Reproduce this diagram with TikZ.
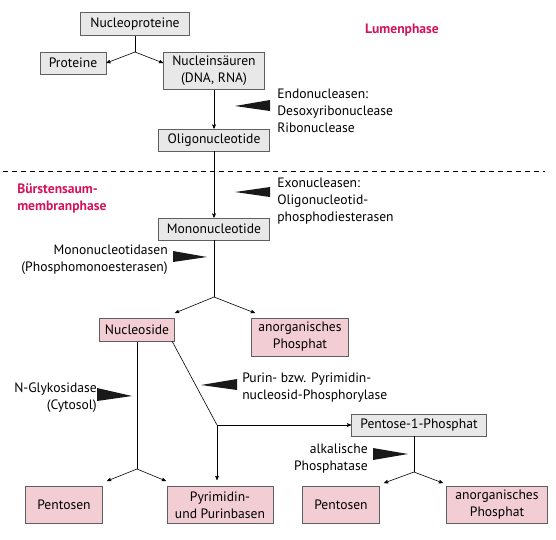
\documentclass[tikz,border=0pt]{standalone}
\usepackage{fontspec}
\setmainfont{PT Sans}
\usetikzlibrary{arrows}
\definecolor{boxgray}{HTML}{E8E8E8}
\definecolor{boxpink}{HTML}{F3CDD4}
\definecolor{framegray}{HTML}{5F5F5F}
\definecolor{phasered}{HTML}{D4145A}
\begin{document}
\begin{tikzpicture}[
    x=1pt, y=-1pt,
    ->,>=stealth',
    font=\fontsize{13.6}{17}\selectfont,
    line width=0.6pt,
    gray node/.style={rectangle, fill=boxgray, draw=framegray, inner sep=1pt, align=center},
    pink node/.style={rectangle, fill=boxpink, draw=framegray, inner sep=1pt, align=center},
    enzyme/.style={inner sep=0pt},
    phase/.style={inner sep=0pt, align=left, text=phasered, font=\fontsize{13.6}{17}\selectfont\bfseries},
    wedge/.style={fill=black!90, draw=none}
]
\useasboundingbox (0,0) rectangle (556,539);

% Nodes
\node[gray node, minimum width=109, minimum height=23] at (135, 24) (np) {Nucleoproteine};
\node[gray node, minimum width=66, minimum height=22] at (73, 63) (prot) {Proteine};
\node[gray node, minimum width=101, minimum height=37] at (214, 71) (nuc) {Nucleinsäuren\\(DNA, RNA)};
\node[gray node, minimum width=111, minimum height=22] at (214, 140) (oligo) {Oligonucleotide};
\node[gray node, minimum width=111, minimum height=22] at (214, 229) (mono) {Mononucleotide};
\node[pink node, minimum width=75, minimum height=23] at (137, 330) (nucs) {Nucleoside};
\node[pink node, minimum width=97, minimum height=38] at (300, 337) (phosA) {anorganisches\\Phosphat};
\node[gray node, minimum width=135, minimum height=22] at (419, 425) (pent1p) {Pentose-1-Phosphat};
\node[pink node, minimum width=77, minimum height=37] at (64, 505) (pentA) {Pentosen};
\node[pink node, minimum width=106, minimum height=37] at (220, 505) (bases) {Pyrimidin-\\und Purinbasen};
\node[pink node, minimum width=77, minimum height=37] at (341, 505) (pentB) {Pentosen};
\node[pink node, minimum width=101, minimum height=37] at (497, 505) (phosB) {anorganisches\\Phosphat};

% Phases
\node[phase] at (402, 30) (lumen) {Lumenphase};
\node[phase, anchor=west] at (17, 198) (brush) {Bürstensaum-\\membranphase};
\draw[-, dash pattern=on 5pt off 4pt] (3, 171) coordinate (dashL) -- (545, 171) coordinate (dashR);

% Enzymes
\node[enzyme, anchor=west, align=left] at (277, 111) (endo) {Endonucleasen:\\Desoxyribonuclease\\Ribonuclease};
\node[enzyme, anchor=west, align=left] at (277, 201) (exo) {Exonucleasen:\\Oligonucleotid-\\phosphodiesterasen};
\node[enzyme, anchor=east, align=right] at (168, 260) (monoase) {Mononucleotidasen\\(Phosphomonoesterasen)};
\node[enzyme, anchor=east, align=right] at (97, 398) (glyk) {N-Glykosidase\\(Cytosol)};
\node[enzyme, anchor=west, align=left] at (242, 388) (phosph) {Purin- bzw. Pyrimidin-\\nucleosid-Phosphorylase};
\node[enzyme, anchor=east, align=right] at (368, 459) (alk) {alkalische\\Phosphatase};

% Wedges
\fill[wedge] (235, 106) -- (270, 100) -- (270, 111) -- cycle;
\fill[wedge] (235, 192) -- (270, 187) -- (270, 197) -- cycle;
\fill[wedge] (207, 257) -- (173, 251) -- (173, 262) -- cycle;
\fill[wedge] (132, 396) -- (97, 388) -- (97, 401) -- cycle;
\fill[wedge] (201, 385) -- (237, 379) -- (237, 390) -- cycle;
\fill[wedge] (408, 454) -- (373, 448) -- (373, 460) -- cycle;

% Branch points
\coordinate (b1) at (135, 52);
\coordinate (b2) at (214, 297);
\coordinate (b3) at (137, 469);
\coordinate (b4) at (217, 425);
\coordinate (b5) at (414, 472);

% Edges in the Lumenphase
\draw[-] (np) -- (b1);
\draw (b1) -- (prot.east);
\draw (b1) -- (nuc.west |- prot.east);
\draw (nuc) -- (oligo);
\draw (oligo) -- (mono);

% Edges in the Bürstensaummembranphase
\draw[-] (mono) -- (b2);
\draw (b2) -- (175, 313) coordinate (t1);
\draw (b2) -- (255, 313) coordinate (t2);
\draw[-] (b3 |- nucs.south) -- (b3);
\draw (b3) -- (107, 481) coordinate (t3);
\draw (b3) -- (166, 481) coordinate (t4);
\draw[-] (172, 341) coordinate (n2) -- (b4);
\draw (b4) -- (pent1p.west);
\draw (b4) -- (217, 480) coordinate (t5);
\draw[-] (b5 |- pent1p.south) -- (b5);
\draw (b5) -- (384, 483) coordinate (t6);
\draw (b5) -- (443, 483) coordinate (t7);

\end{tikzpicture}
\end{document}
